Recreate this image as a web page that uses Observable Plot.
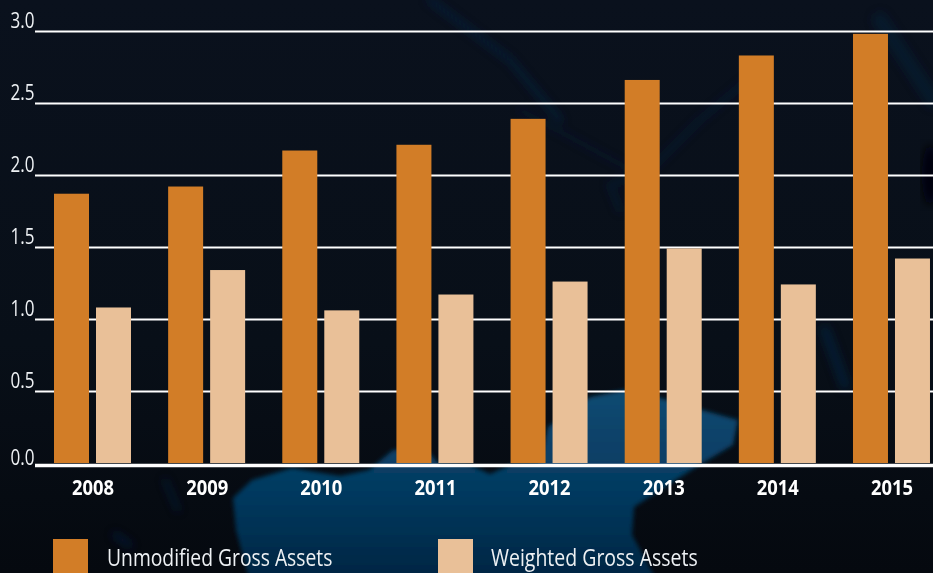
<!DOCTYPE html>
<html>
<head>
<meta charset="utf-8">
<script src="https://cdn.jsdelivr.net/npm/d3@7"></script>
<script src="https://cdn.jsdelivr.net/npm/@observablehq/plot@0.6"></script>
<style>
  html, body { margin: 0; padding: 0; width: 933px; height: 573px; overflow: hidden; background: #070d16; }
  #bg { position: absolute; left: 0; top: 0; width: 933px; height: 573px; }
  #chart { position: absolute; left: 0; top: 0; width: 933px; height: 573px; overflow: hidden;
           font-family: "Open Sans", sans-serif; }
  #chart svg { display: block; background: transparent; font-family: "Open Sans", sans-serif; }
  .legend { position: relative; height: 53px; margin-top: 19px; }
  .swatch { position: absolute; top: 0; width: 35px; height: 53px; }
  .label { position: absolute; top: 4px; color: #eef1f4; font-size: 24px; line-height: 28px; white-space: nowrap; transform-origin: left center; }
</style>
</head>
<body>
<svg id="bg" viewBox="0 0 933 573" xmlns="http://www.w3.org/2000/svg">
  <defs>
    <linearGradient id="base" x1="0" y1="0" x2="0" y2="1">
      <stop offset="0" stop-color="#0a111d"/>
      <stop offset="0.6" stop-color="#080f18"/>
      <stop offset="1" stop-color="#05090f"/>
    </linearGradient>
    <linearGradient id="land" x1="0" y1="0" x2="0" y2="1">
      <stop offset="0" stop-color="#0a4a72"/>
      <stop offset="0.5" stop-color="#063a60"/>
      <stop offset="1" stop-color="#03233f"/>
    </linearGradient>
    <filter id="b2"><feGaussianBlur stdDeviation="2"/></filter>
    <filter id="b4"><feGaussianBlur stdDeviation="4"/></filter>
  </defs>
  <rect width="933" height="573" fill="url(#base)"/>
  <path d="M252 590 L236 530 L233 498 L252 480 L292 468 L340 476 L369 470 L393 450 L425 448 L438 463 L470 465 L490 474 L510 465 L540 463 L548 427 L590 397 L625 390 L660 398 L702 410 L738 420 L733 445 L696 467 L660 490 L634 507 L632 535 L662 590 Z" fill="url(#land)" filter="url(#b2)"/>
  <g fill="none" stroke="#0d2a55" stroke-linecap="round" filter="url(#b4)">
    <path d="M430 0 L510 60 L560 120" stroke-width="6" opacity="0.45"/>
    <path d="M520 110 L640 175" stroke-width="4" opacity="0.3"/>
    <path d="M760 70 L700 120 L650 170 L610 185 L620 210" stroke-width="5" opacity="0.35"/>
    <path d="M880 20 L933 100" stroke-width="16" opacity="0.25"/>
    <path d="M825 330 L845 385" stroke-width="10" opacity="0.45"/>
    <path d="M165 480 L178 510" stroke-width="3" opacity="0.7"/>
    <path d="M115 535 L130 545" stroke-width="5" opacity="0.6"/>
  </g>
  <ellipse cx="930" cy="175" rx="8" ry="30" fill="#03060b" filter="url(#b4)"/>
</svg>
<div id="chart"></div>
<script>
const years = ["2008", "2009", "2010", "2011", "2012", "2013", "2014", "2015"];
const unmodified = [1.87, 1.92, 2.17, 2.21, 2.39, 2.66, 2.83, 2.98];
const weighted = [1.08, 1.34, 1.06, 1.17, 1.26, 1.49, 1.24, 1.42];
const yTicks = [0, 0.5, 1, 1.5, 2, 2.5, 3];
const seriesNames = ["Unmodified Gross Assets", "Weighted Gross Assets"];
const seriesColors = ["#d27d27", "#e9c098"];

const plot = Plot.plot({
  width: 933,
  height: 520,
  marginTop: 31,
  marginBottom: 57,
  marginLeft: 35,
  marginRight: 0,
  style: {background: "transparent", overflow: "visible", fontFamily: "'Open Sans', sans-serif"},
  x: {type: "band", domain: years, range: [35.43, 948.55], padding: 0, round: false},
  y: {domain: [0, 3], range: [463, 31]},
  marks: [
    Plot.ruleY(yTicks.filter(d => d > 0), {stroke: "#ffffff", strokeWidth: 1.8}),
    Plot.ruleY([0], {stroke: "#ffffff", strokeWidth: 3.7, dy: 2}),
    Plot.barY(unmodified, {x: (d, i) => years[i], y: d => d, fill: seriesColors[0], insetLeft: 18.57, insetRight: 60.57}),
    Plot.barY(weighted, {x: (d, i) => years[i], y: d => d, fill: seriesColors[1], insetLeft: 60.57, insetRight: 18.57}),
    Plot.axisY({ticks: yTicks.filter(d => d > 0), tickFormat: d3.format(".1f"), tickSize: 0, tickPadding: 1, dy: -11,
      fontSize: 22, fill: "#eef1f4", label: null, className: "ylab"}),
    Plot.axisY({ticks: [0], tickFormat: d3.format(".1f"), tickSize: 0, tickPadding: 1, dy: -6,
      fontSize: 22, fill: "#eef1f4", label: null, className: "ylab"}),
    Plot.axisX({tickSize: 0, tickPadding: 16, fontSize: 22, fontWeight: "bold", fill: "#ffffff", label: null, className: "xlab"})
  ]
});
const chart = document.getElementById("chart");
chart.appendChild(plot);
// Condense the axis text, keeping it real text
plot.querySelectorAll(".ylab text").forEach(t => { t.setAttribute("textLength", 24); t.setAttribute("lengthAdjust", "spacingAndGlyphs"); });
plot.querySelectorAll(".xlab text").forEach(t => { t.setAttribute("textLength", 42); t.setAttribute("lengthAdjust", "spacingAndGlyphs"); });

const legend = document.createElement("div");
legend.className = "legend";
const swatchLeft = [53, 438];
const labelLeft = [107, 491];
const labelWidth = [225, 207];
seriesNames.forEach((name, i) => {
  const s = document.createElement("div");
  s.className = "swatch";
  s.style.left = swatchLeft[i] + "px";
  s.style.background = seriesColors[i];
  legend.appendChild(s);
  const t = document.createElement("div");
  t.className = "label";
  t.style.left = labelLeft[i] + "px";
  t.textContent = name;
  legend.appendChild(t);
});
chart.appendChild(legend);
seriesNames.forEach((name, i) => {
  const t = legend.querySelectorAll(".label")[i];
  t.style.transform = `scaleX(${labelWidth[i] / t.offsetWidth})`;
});
</script>
</body>
</html>
